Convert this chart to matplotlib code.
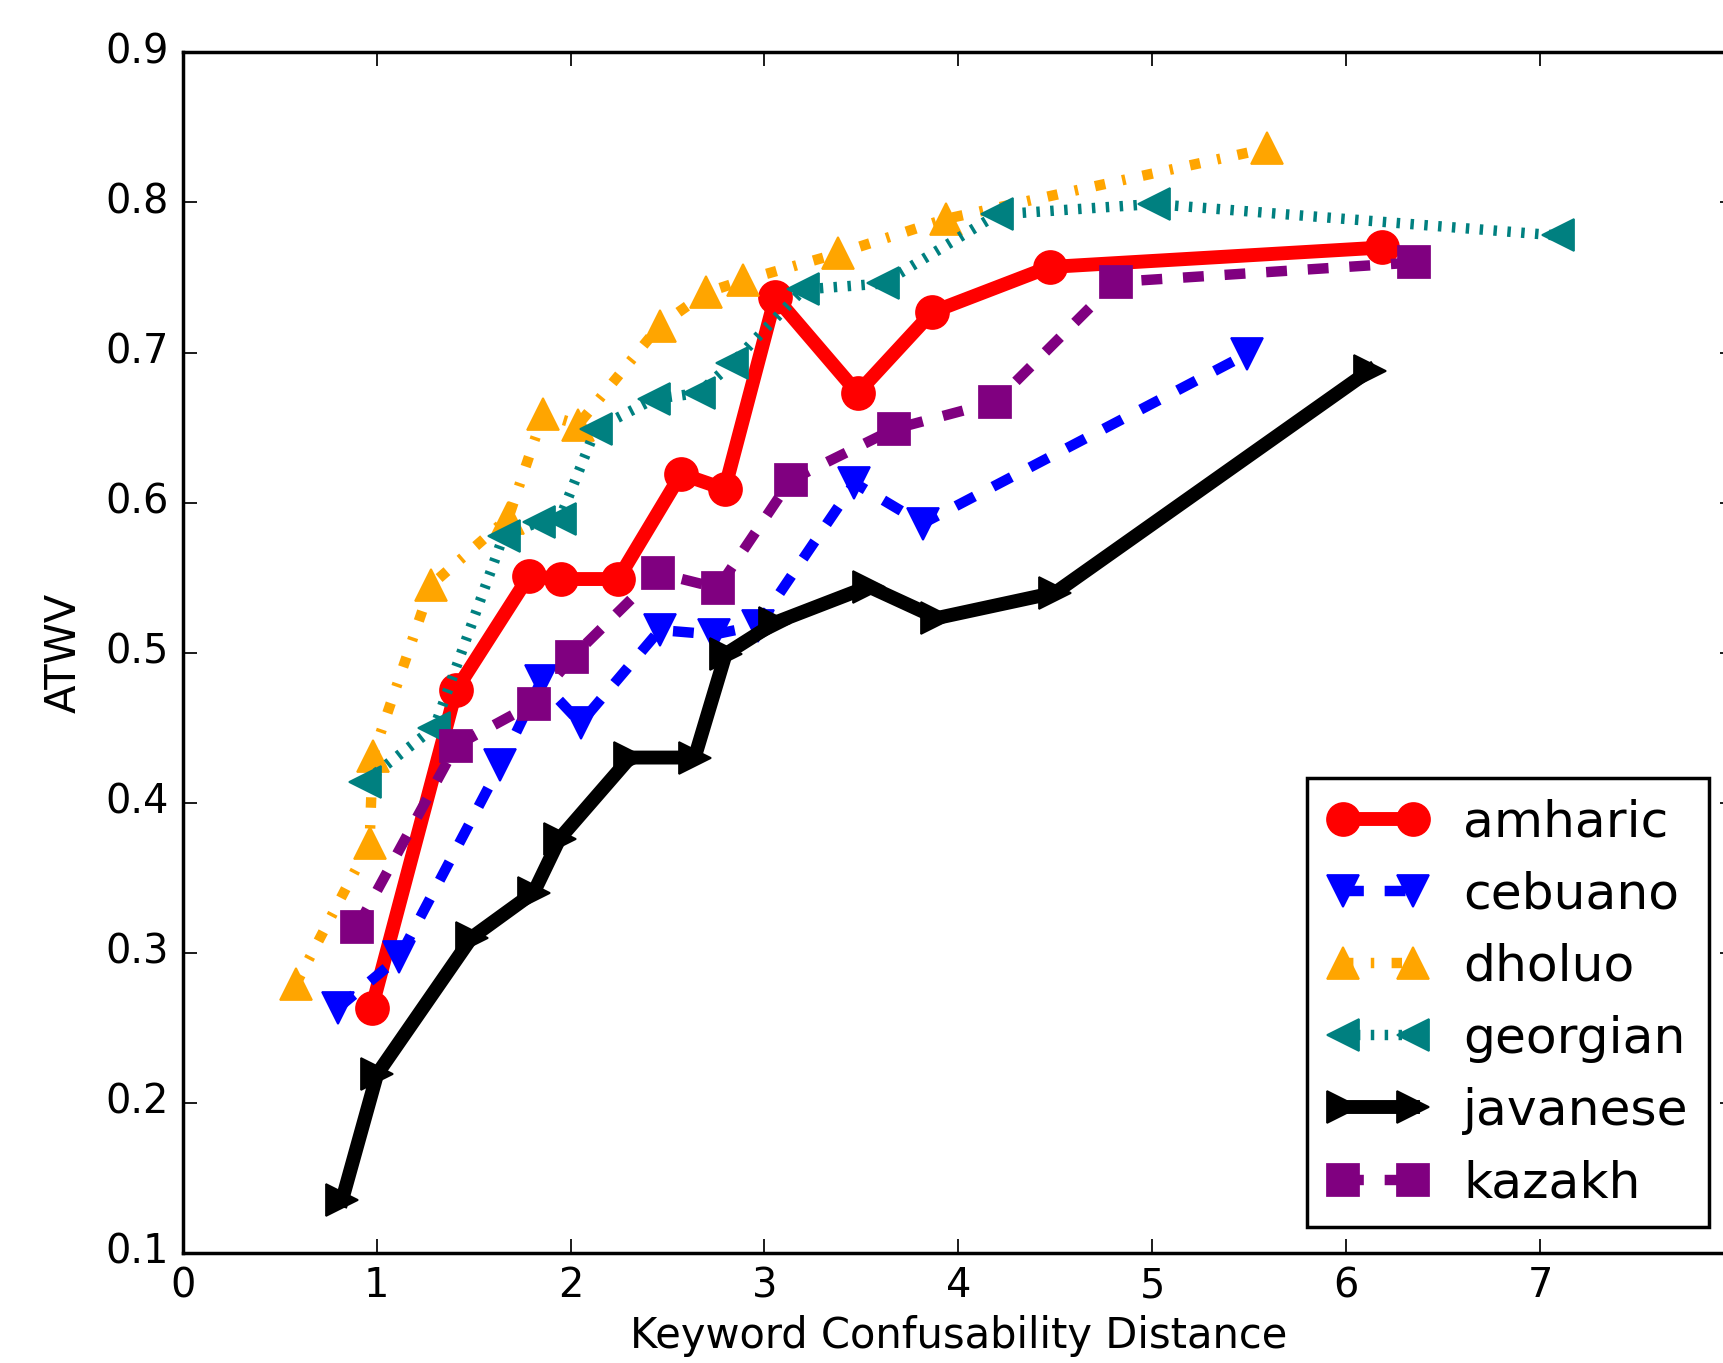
"""ATWV vs keyword confusability distance, one curve per language."""
import matplotlib
matplotlib.use("Agg")
import matplotlib.pyplot as plt

# --- data -----------------------------------------------------------------
languages = ["amharic", "cebuano", "dholuo", "georgian", "javanese", "kazakh"]

amharic_x = [0.975, 1.41, 1.786, 1.95, 2.245, 2.57, 2.795, 3.056, 3.48, 3.866, 4.47, 6.185]
amharic_y = [0.263, 0.475, 0.551, 0.549, 0.549, 0.619, 0.609, 0.737, 0.673, 0.727, 0.757, 0.770]

cebuano_x = [0.80, 1.117, 1.638, 1.848, 2.052, 2.46, 2.74, 2.965, 3.464, 3.815, 5.488]
cebuano_y = [0.263, 0.297, 0.425, 0.481, 0.453, 0.515, 0.512, 0.518, 0.613, 0.586, 0.699]

dholuo_x = [0.584, 0.964, 0.98, 1.281, 1.68, 1.86, 2.04, 2.46, 2.70, 2.89, 3.38, 3.934, 5.59]
dholuo_y = [0.279, 0.373, 0.431, 0.545, 0.590, 0.659, 0.652, 0.718, 0.740, 0.748, 0.766, 0.789, 0.836]

georgian_x = [0.94, 1.298, 1.655, 1.837, 1.944, 2.13, 2.43, 2.66, 2.835, 3.20, 3.61, 4.20, 5.006, 7.09]
georgian_y = [0.414, 0.450, 0.578, 0.587, 0.589, 0.649, 0.669, 0.673, 0.693, 0.742, 0.746, 0.792, 0.799, 0.778]

javanese_x = [0.822, 1.003, 1.49, 1.81, 1.944, 2.307, 2.64, 2.80, 3.056, 3.537, 3.89, 4.50, 6.12]
javanese_y = [0.135, 0.219, 0.310, 0.340, 0.376, 0.430, 0.430, 0.499, 0.520, 0.544, 0.523, 0.540, 0.688]

kazakh_x = [0.90, 1.41, 1.81, 2.01, 2.45, 2.76, 3.135, 3.668, 4.19, 4.81, 6.35]
kazakh_y = [0.317, 0.438, 0.466, 0.497, 0.553, 0.543, 0.615, 0.649, 0.667, 0.747, 0.760]

SERIES = {
    "amharic": (amharic_x, amharic_y),
    "cebuano": (cebuano_x, cebuano_y),
    "dholuo": (dholuo_x, dholuo_y),
    "georgian": (georgian_x, georgian_y),
    "javanese": (javanese_x, javanese_y),
    "kazakh": (kazakh_x, kazakh_y),
}

# colour, linestyle, marker, linewidth
STYLE = {
    "amharic": ("red", "-", "o", 4.0),
    "cebuano": ("blue", "--", "v", 3.0),
    "dholuo": ("orange", "-.", "^", 3.0),
    "georgian": ("teal", ":", "<", 3.0),
    "javanese": ("black", "-", ">", 4.0),
    "kazakh": ("purple", "--", "s", 3.0),
}

DPI = 250
W_PX, H_PX = 1723, 1363


def main() -> int:
    plt.style.use("classic")
    plt.rcParams["font.family"] = ["DejaVu Sans"]

    fig = plt.figure(figsize=(W_PX / DPI, H_PX / DPI), dpi=DPI, facecolor="white")
    # right spine sits just past the image edge, as in the reference
    ax = fig.add_axes([0.106, 0.081, 0.9005, 0.8805])

    for lang in languages:
        xs, ys = SERIES[lang]
        color, ls, mk, lw = STYLE[lang]
        ax.plot(xs, ys, color=color, linestyle=ls, marker=mk, linewidth=lw,
                markersize=9.5, markeredgecolor=color, label=lang)

    ax.set_xlim(0, 8)
    ax.set_ylim(0.1, 0.9)
    ax.set_xticks(range(0, 9))
    ax.set_yticks([0.1, 0.2, 0.3, 0.4, 0.5, 0.6, 0.7, 0.8, 0.9])
    ax.set_xlabel("Keyword Confusability Distance", fontsize=12, labelpad=2.5)
    ax.set_ylabel("ATWV", fontsize=12, labelpad=6)
    ax.tick_params(labelsize=11.5, pad=4)

    ax.legend(loc="lower right", fontsize=14.5, numpoints=2,
              borderpad=0.4, handletextpad=0.7, labelspacing=0.48)

    fig.savefig("out.png", dpi=DPI, facecolor="white")
    return 0


if __name__ == "__main__":
    raise SystemExit(main())
